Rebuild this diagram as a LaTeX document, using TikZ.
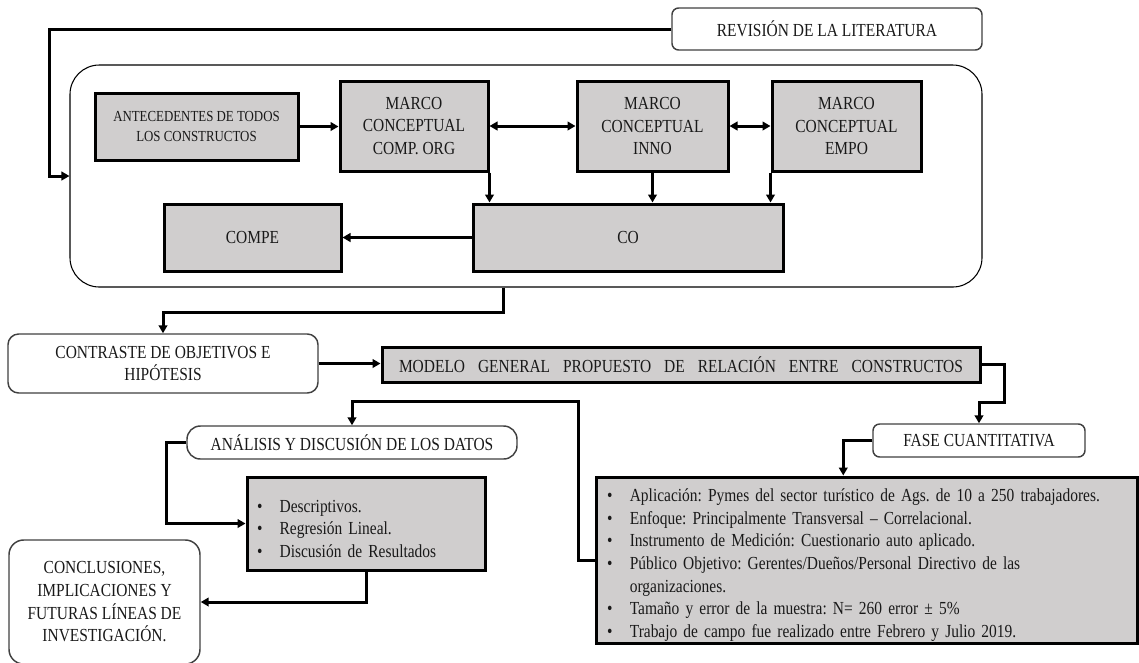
\documentclass[tikz,border=0pt]{standalone}
\usepackage{fontspec}
\setmainfont{Liberation Serif}[FakeStretch=0.84]
\usetikzlibrary{arrows.meta}

\definecolor{grisfondo}{HTML}{D0CECE}
\newcommand{\punto}[1]{\par\hangindent=17pt\hangafter=1\noindent\makebox[17pt][l]{\textbullet}#1}
\frenchspacing

\begin{document}
\begin{tikzpicture}[x=0.75pt, y=-0.75pt,
    >={Triangle[length=6pt, width=6.5pt]},
    every node/.style={text=black!90, font=\fontsize{13.8}{17}\selectfont},
    gris/.style={draw=black, line width=2.25pt, fill=grisfondo, inner sep=0pt, align=center},
    redondo/.style={draw=black!75, line width=1.1pt, fill=white, inner sep=0pt, align=center},
    conn/.style={line width=2.25pt}]
    \useasboundingbox (0,0) rectangle (1139,662);

    % Revisión de la literatura y marco conceptual
    \node[redondo, rounded corners=5pt, minimum width=232.5pt, minimum height=31.5pt] (rev) at (827,29) {REVISIÓN DE LA LITERATURA};
    \node[draw=black, line width=0.8pt, rounded corners=22pt, minimum width=684pt, minimum height=166.5pt] (marco) at (526,176) {};

    \node[gris, minimum width=152.25pt, minimum height=50.25pt, font=\fontsize{11.5}{14.5}\selectfont] (ant) at (196.5,126.5) {ANTECEDENTES DE TODOS\\LOS CONSTRUCTOS};
    \node[gris, minimum width=111pt, minimum height=67.5pt] (org) at (414,126) {MARCO\\CONCEPTUAL\\COMP. ORG};
    \node[gris, minimum width=113.25pt, minimum height=67.5pt] (inno) at (652.5,126) {MARCO\\CONCEPTUAL\\INNO};
    \node[gris, minimum width=111.75pt, minimum height=67.5pt] (empo) at (846.5,126) {MARCO\\CONCEPTUAL\\EMPO};
    \node[gris, minimum width=132.75pt, minimum height=50.25pt] (compe) at (252.5,237.5) {COMPE};
    \node[gris, minimum width=232.5pt, minimum height=50.25pt] (co) at (628,237.5) {CO};

    % Flechas del marco
    \draw[conn, ->] (rev.west) -- ++(-622,0) |- (marco.west);
    \draw[conn, ->] (ant.east) -- (ant.east -| org.west);
    \draw[conn, <->] (org.east) -- (inno.west);
    \draw[conn, <->] (inno.east) -- (empo.west);
    \draw[conn, ->] (org.south east) -- (org.south east |- co.north);
    \draw[conn, ->] (inno.south) -- (inno.south |- co.north);
    \draw[conn, ->] (empo.south west) -- (empo.south west |- co.north);
    \draw[conn, ->] (co.west) -- (compe.east);

    % Contraste y modelo general
    \node[redondo, rounded corners=8pt, minimum width=232.5pt, minimum height=44.25pt] (contraste) at (163,363.5) {CONTRASTE DE OBJETIVOS E\\HIPÓTESIS};
    \node[gris, minimum width=448.5pt, minimum height=26.25pt] (modelo) at (681,364.5) {\makebox[423pt][s]{MODELO GENERAL PROPUESTO DE RELACIÓN ENTRE CONSTRUCTOS}};

    \draw[conn, ->] ([xshift=-17.25pt]marco.south) -- ++(0,25) -| (contraste.north);
    \draw[conn, ->] (contraste.east) -- (contraste.east -| modelo.west);

    % Fase cuantitativa
    \node[redondo, rounded corners=5pt, minimum width=159pt, minimum height=24.75pt] (fase) at (979,440.5) {FASE CUANTITATIVA};
    \node[gris, minimum width=405.75pt, minimum height=124.5pt, inner xsep=8pt, text width=389pt, align=left] (datos) at (866.5,560) {%
        \punto{Aplicación: Pymes del sector turístico de Ags. de 10 a 250 trabajadores.}
        \punto{Enfoque: Principalmente Transversal -- Correlacional.}
        \punto{Instrumento de Medición: Cuestionario auto aplicado.}
        \punto{Público Objetivo: Gerentes/Dueños/Personal Directivo de las\newline organizaciones.}
        \punto{Tamaño y error de la muestra: N= 260 error ± 5\%}
        \punto{Trabajo de campo fue realizado entre Febrero y Julio 2019.}};

    \draw[conn, ->] (modelo.east) -- ++(23,0) -- ++(0,38) -| (fase.north);
    \draw[conn, ->] (fase.west) -- ++(-29,0) coordinate (f1) -- (f1 |- datos.north);

    % Análisis y conclusiones
    \node[redondo, rounded corners=10pt, minimum width=247.5pt, minimum height=24.75pt] (analisis) at (352,442.5) {ANÁLISIS Y DISCUSIÓN DE LOS DATOS};
    \node[gris, minimum width=178.5pt, minimum height=69.75pt, inner xsep=7.5pt, text width=163.5pt, align=left] (resul) at (366,523.5) {%
        \punto{Descriptivos.}
        \punto{Regresión Lineal.}
        \punto{Discusión de Resultados}};
    \node[redondo, rounded corners=11pt, minimum width=143.25pt, minimum height=93pt] (concl) at (104.5,602) {CONCLUSIONES,\\IMPLICACIONES Y\\FUTURAS LÍNEAS DE\\INVESTIGACIÓN.};

    \draw[conn, ->] (datos.west) -- ++(-16,0) -- ++(0,-159) -| (analisis.north);
    \draw[conn, ->] (analisis.west) -- ++(-20,0) |- (resul.west);
    \draw[conn, ->] (resul.south) |- (concl.east);
\end{tikzpicture}
\end{document}
